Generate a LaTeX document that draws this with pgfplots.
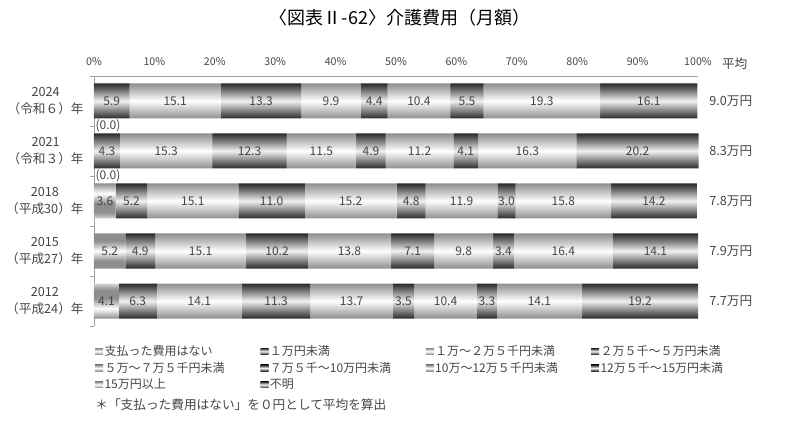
\documentclass[border=0pt]{standalone}
\usepackage{fontspec}
\setmainfont{Noto Sans CJK JP}
\usepackage{pgfplots}
\pgfplotsset{compat=1.18}
\usepackage{pgfplotstable}

\definecolor{edgelight}{HTML}{8E8E8E}
\definecolor{midlight}{HTML}{C6C6C6}
\definecolor{edgedark}{HTML}{2A2A2A}
\definecolor{middark}{HTML}{8A8A8A}
\definecolor{centerdark}{HTML}{F2F2F2}
\definecolor{txtgray}{HTML}{454545}
\definecolor{axisgray}{HTML}{A0A0A0}

% one glossy band per year bar (5 bars, period 37.5pt, bar 26.25pt),
% mapped onto the 25bp..75bp range that covers a series' bounding box
\pgfdeclareverticalshading{segL}{100bp}{
  color(0bp)=(edgelight); color(25bp)=(edgelight);
  color(26.862bp)=(midlight); color(28.723bp)=(white); color(30.585bp)=(midlight); color(32.447bp)=(edgelight);
  color(35.638bp)=(edgelight); color(37.5bp)=(midlight); color(39.362bp)=(white); color(41.223bp)=(midlight); color(43.085bp)=(edgelight);
  color(46.277bp)=(edgelight); color(48.138bp)=(midlight); color(50bp)=(white); color(51.862bp)=(midlight); color(53.723bp)=(edgelight);
  color(56.915bp)=(edgelight); color(58.777bp)=(midlight); color(60.638bp)=(white); color(62.5bp)=(midlight); color(64.362bp)=(edgelight);
  color(67.553bp)=(edgelight); color(69.415bp)=(midlight); color(71.277bp)=(white); color(73.138bp)=(midlight); color(75bp)=(edgelight);
  color(100bp)=(edgelight)}
\pgfdeclareverticalshading{segD}{100bp}{
  color(0bp)=(edgedark); color(25bp)=(edgedark);
  color(26.862bp)=(middark); color(28.723bp)=(centerdark); color(30.585bp)=(middark); color(32.447bp)=(edgedark);
  color(35.638bp)=(edgedark); color(37.5bp)=(middark); color(39.362bp)=(centerdark); color(41.223bp)=(middark); color(43.085bp)=(edgedark);
  color(46.277bp)=(edgedark); color(48.138bp)=(middark); color(50bp)=(centerdark); color(51.862bp)=(middark); color(53.723bp)=(edgedark);
  color(56.915bp)=(edgedark); color(58.777bp)=(middark); color(60.638bp)=(centerdark); color(62.5bp)=(middark); color(64.362bp)=(edgedark);
  color(67.553bp)=(edgedark); color(69.415bp)=(middark); color(71.277bp)=(centerdark); color(73.138bp)=(middark); color(75bp)=(edgedark);
  color(100bp)=(edgedark)}

% share (%) by year: c1 = 支払った費用はない ... c10 = 不明
\pgfplotstableread{
yr c1  c2  c3   c4   c5   c6  c7   c8  c9   c10
0  0.0 5.9 15.1 13.3 9.9  4.4 10.4 5.5 19.3 16.1
1  0.0 4.3 15.3 12.3 11.5 4.9 11.2 4.1 16.3 20.2
2  3.6 5.2 15.1 11.0 15.2 4.8 11.9 3.0 15.8 14.2
3  5.2 4.9 15.1 10.2 13.8 7.1 9.8  3.4 16.4 14.1
4  4.1 6.3 14.1 11.3 13.7 3.5 10.4 3.3 14.1 19.2
}\caredata

\tikzset{
  avg/.style={anchor=west, xshift=5pt, font=\fontsize{9.5}{11}\selectfont, text=txtgray},
  zero/.style={anchor=west, inner sep=1pt, font=\fontsize{9}{10}\selectfont, text=txtgray},
}

\pgfplotsset{
  seg/.style={
    draw=none, point meta=explicit,
    visualization depends on={\thisrow{#1}\as\segval},
    nodes near coords={\pgfmathprintnumber[fixed,fixed zerofill,precision=1]{\pgfplotspointmeta}},
    every node near coord/.append style={anchor=center,
      font=\fontsize{9}{10}\selectfont, text=txtgray},
  },
  lightbar/.style={seg=#1, shade, shading=segL,
    legend image code/.code={\shade[top color=edgelight,bottom color=edgelight,middle color=white] (0pt,-2.3pt) rectangle (6pt,2.3pt);}},
  darkbar/.style={seg=#1, shade, shading=segD,
    legend image code/.code={\shade[top color=edgedark,bottom color=edgedark,middle color=centerdark] (0pt,-2.3pt) rectangle (6pt,2.3pt);}},
}

\begin{document}
\begin{tikzpicture}[x=1pt,y=1pt]
\useasboundingbox (0,0) rectangle (600,-317.25);
\node[font=\fontsize{13.5}{15}\selectfont] at (300,-13.5) {〈図表Ⅱ-62〉介護費用（月額）};
\begin{axis}[
  at={(70.5pt,-57pt)}, anchor=north west,
  scale only axis, width=453pt, height=187.5pt,
  xbar stacked, bar width=26.25pt,
  xmin=0, xmax=100, ymin=-0.5, ymax=4.5, y dir=reverse,
  axis x line*=top, axis y line*=left,
  axis line style={axisgray},
  clip=false,
  xtick={0,10,...,100},
  xticklabel={\pgfmathprintnumber{\tick}\%},
  xticklabel style={font=\fontsize{8}{9}\selectfont, text=txtgray},
  /pgf/number format/assume math mode=true,
  major x tick style={draw=none},
  ytick={0,...,4},
  yticklabels={{2024\\（令和６）年},{2021\\（令和３）年},{2018\\（平成30）年},{2015\\（平成27）年},{2012\\（平成24）年}},
  yticklabel style={align=center, font=\fontsize{9.5}{12.75}\selectfont, text=txtgray},
  major y tick style={draw=none},
  minor ytick={-0.5,0.5,...,4.5},
  minor y tick style={axisgray},
  minor tick length=3pt,
  tick align=outside,
  legend columns=4,
  legend cell align=left,
  legend style={at={(-0.005,-0.06)}, anchor=north west, draw=none, fill=none,
    font=\fontsize{9}{10}\selectfont, text=txtgray,
    nodes={text width=116pt, inner sep=1pt},
    row sep=1.5pt},
]
\addplot[lightbar=c1, nodes near coords={\ifdim\segval pt>0.01pt\pgfmathprintnumber[fixed,fixed zerofill,precision=1]{\pgfplotspointmeta}\fi}] table[x=c1,y=yr,meta=c1] {\caredata};
\addlegendentry{支払った費用はない}
\addplot[darkbar=c2] table[x=c2,y=yr,meta=c2] {\caredata};
\addlegendentry{１万円未満}
\addplot[lightbar=c3] table[x=c3,y=yr,meta=c3] {\caredata};
\addlegendentry{１万～２万５千円未満}
\addplot[darkbar=c4] table[x=c4,y=yr,meta=c4] {\caredata};
\addlegendentry{２万５千～５万円未満}
\addplot[lightbar=c5] table[x=c5,y=yr,meta=c5] {\caredata};
\addlegendentry{５万～７万５千円未満}
\addplot[darkbar=c6] table[x=c6,y=yr,meta=c6] {\caredata};
\addlegendentry{７万５千～10万円未満}
\addplot[lightbar=c7] table[x=c7,y=yr,meta=c7] {\caredata};
\addlegendentry{10万～12万５千円未満}
\addplot[darkbar=c8] table[x=c8,y=yr,meta=c8] {\caredata};
\addlegendentry{12万５千～15万円未満}
\addplot[lightbar=c9] table[x=c9,y=yr,meta=c9] {\caredata};
\addlegendentry{15万円以上}
\addplot[darkbar=c10] table[x=c10,y=yr,meta=c10] {\caredata};
\addlegendentry{不明}
\node[zero] at (axis cs:0,0.5) {(0.0)};
\node[zero] at (axis cs:0,1.5) {(0.0)};
\node[avg] at (axis cs:100,0) {9.0万円};
\node[avg] at (axis cs:100,1) {8.3万円};
\node[avg] at (axis cs:100,2) {7.8万円};
\node[avg] at (axis cs:100,3) {7.9万円};
\node[avg] at (axis cs:100,4) {7.7万円};
\end{axis}
\node[font=\fontsize{9.5}{11}\selectfont, text=txtgray] at (551,-48) {平均};
\node[anchor=west, font=\fontsize{9.5}{11}\selectfont, text=txtgray] at (68,-303.75) {＊「支払った費用はない」を０円として平均を算出};
\end{tikzpicture}
\end{document}
